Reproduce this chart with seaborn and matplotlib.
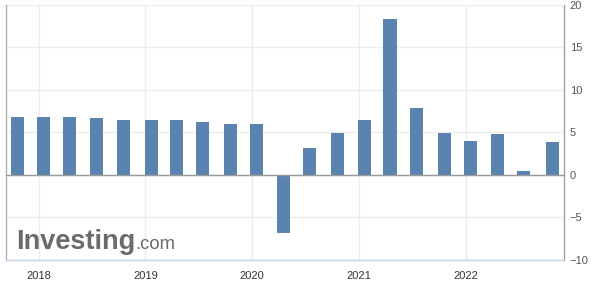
import matplotlib
matplotlib.use("Agg")
import matplotlib.pyplot as plt
import matplotlib.dates as mdates
import seaborn as sns
import pandas as pd
import numpy as np

release_dates = ["2017-10-19", "2018-01-18", "2018-04-17", "2018-07-16", "2018-10-19",
                 "2019-01-21", "2019-04-17", "2019-07-15", "2019-10-18", "2020-01-17",
                 "2020-04-17", "2020-07-16", "2020-10-19", "2021-01-18", "2021-04-16",
                 "2021-07-15", "2021-10-18", "2022-01-17", "2022-04-18", "2022-07-15",
                 "2022-10-24"]
gdp_yoy = [6.8, 6.8, 6.8, 6.7, 6.5, 6.4, 6.4, 6.2, 6.0, 6.0,
           -6.8, 3.2, 4.9, 6.5, 18.3, 7.9, 4.9, 4.0, 4.8, 0.4, 3.9]
year_labels = ["2018", "2019", "2020", "2021", "2022"]
y_ticks = [-10, -5, 0, 5, 10, 15, 20]

sns.set_theme(style="white")
plt.rcParams['font.family'] = ['Liberation Sans', 'DejaVu Sans']

x_num = [mdates.date2num(pd.Timestamp(d)) for d in release_dates]
df = pd.DataFrame({"x": x_num, "y": gdp_yoy})

fig = plt.figure(figsize=(6.03, 2.82), dpi=100)
ax = fig.add_axes([5.7/603, (282-260)/282, (564.3-5.7)/603, (260-4.7)/282])

sns.barplot(data=df, x="x", y="y", native_scale=True, ax=ax,
            color="#5b83b0", saturation=1, zorder=3)
bar_days = 44.5
for p in ax.patches:
    c = p.get_x() + p.get_width() / 2
    p.set_x(c - bar_days / 2)
    p.set_width(bar_days)
    p.set_edgecolor("none")

year_pos = [mdates.date2num(pd.Timestamp(f"{y}-01-01")) for y in year_labels]
ax.set_xticks(year_pos)
ax.set_xticklabels(year_labels)
ax.set_xlim(mdates.date2num(pd.Timestamp("2017-09-10")), mdates.date2num(pd.Timestamp("2022-12-03")))
ax.set_ylim(-10, 20)
ax.set_yticks(y_ticks)
ax.yaxis.tick_right()
ax.set_xlabel("")
ax.set_ylabel("")

ax.grid(True, color="#ececec", linewidth=1, zorder=0)
ax.axhline(0, color="#9a9a9a", linewidth=1, zorder=4)

ax.spines["top"].set_visible(False)
ax.spines["left"].set_color("#b0b0b0")
ax.spines["right"].set_color("#a0a0a0")
ax.spines["bottom"].set_color("#c0d4e6")
for s in ["left", "right", "bottom"]:
    ax.spines[s].set_linewidth(1)

ax.tick_params(axis="y", which="both", length=0, pad=4, labelsize=8, colors="#555555")
ax.tick_params(axis="x", which="both", length=0, pad=8, labelsize=8, colors="#333333")
for lbl in ax.get_yticklabels():
    lbl.set_horizontalalignment("left")

# watermark
base_y = (260 - 249) / 255.3
t1 = ax.text(0.0179, base_y, "Investing", transform=ax.transAxes, fontsize=19.5,
             fontweight="bold", color="#6b6b6b", ha="left", va="baseline", zorder=5)
fig.canvas.draw()
bb = t1.get_window_extent()
inv = ax.transAxes.inverted()
x_end = inv.transform((bb.x1, bb.y0))[0]
ax.text(x_end + 0.001, base_y, ".com", transform=ax.transAxes, fontsize=13.3,
        color="#6b6b6b", ha="left", va="baseline", zorder=5)

fig.savefig("out.png", dpi=100, facecolor="white")
